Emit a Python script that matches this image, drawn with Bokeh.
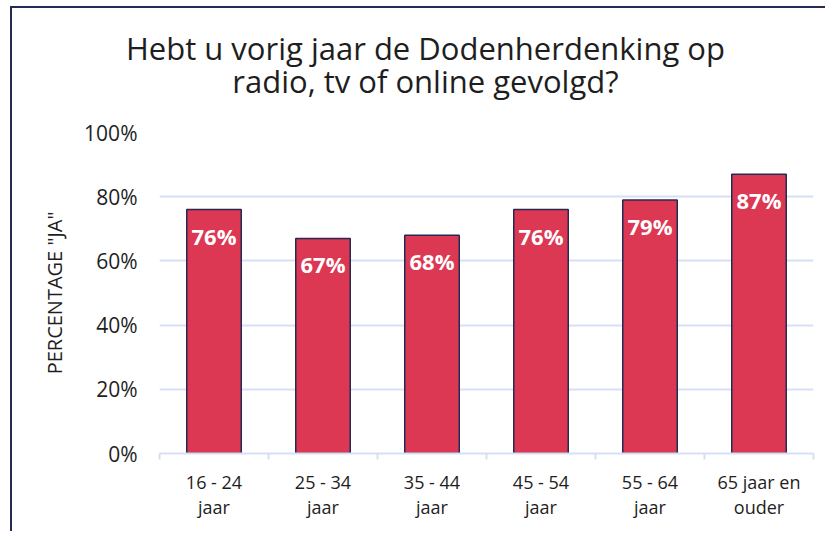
from bokeh.plotting import figure
from bokeh.models import Range1d, FixedTicker, PrintfTickFormatter, ColumnDataSource, LinearAxis
from bokeh.core.properties import value
from bokeh.embed import file_html
from bokeh.resources import INLINE

categories = ["16 - 24\njaar", "25 - 34\njaar", "35 - 44\njaar", "45 - 54\njaar", "55 - 64\njaar", "65 jaar en\nouder"]
percent_ja = [76, 67, 68, 76, 79, 87]
y_ticks = [0, 20, 40, 60, 80, 100]
title_lines = ["Hebt u vorig jaar de Dodenherdenking op", "radio, tv of online gevolgd?"]
y_label = 'PERCENTAGE "JA"'

FONT = "Open Sans"
TXT = "#1e1e1e"
GRID = "#D6DFF3"
BAR = "#DC3753"
EDGE = "#242A52"

n = len(categories)
xs = [i + 0.5 for i in range(n)]
labels = [f"{v}%" for v in percent_ja]
src = ColumnDataSource(dict(x=xs, top=percent_ja, lab=labels))

p = figure(width=815, height=525, output_backend="svg", toolbar_location=None,
           x_range=Range1d(0, n), y_range=Range1d(0, 100),
           min_border_left=147, min_border_right=14, min_border_top=124, min_border_bottom=80)
p.styles = {"margin-left": "10px", "margin-top": "6px",
            "border-left": "2px solid #262B55", "border-top": "2px solid #262B55"}
p.outline_line_color = None
p.background_fill_color = "white"
p.border_fill_color = "white"

p.vbar(x="x", top="top", width=0.5, source=src, fill_color=BAR, line_color=EDGE, line_width=1.5)
p.text(x="x", y="top", text="lab", source=src, text_align="center", text_baseline="middle",
       y_offset=26, text_color="white", text_font=value(FONT), text_font_style="bold",
       text_font_size="22px")

# x axis
xa = p.xaxis[0]
xa.ticker = FixedTicker(ticks=xs, minor_ticks=list(range(n + 1)))
xa.major_label_overrides = {x: c for x, c in zip(xs, categories)}
xa.major_tick_line_color = None
xa.major_tick_out = 0
xa.major_tick_in = 0
xa.minor_tick_line_color = GRID
xa.minor_tick_line_width = 2
xa.minor_tick_out = 6
xa.minor_tick_in = 0
xa.axis_line_color = GRID
xa.axis_line_width = 2
xa.major_label_standoff = 10
xa.major_label_text_font = FONT
xa.major_label_text_font_size = "18px"
xa.major_label_text_color = TXT
xa.major_label_text_line_height = 1.05
p.xgrid.visible = False

# y axis
ya = p.yaxis[0]
ya.ticker = FixedTicker(ticks=y_ticks)
ya.formatter = PrintfTickFormatter(format="%d%%")
ya.axis_line_color = None
ya.major_tick_line_color = None
ya.minor_tick_line_color = None
ya.major_tick_out = 0
ya.major_tick_in = 0
ya.major_label_standoff = 22
ya.major_label_text_font = FONT
ya.major_label_text_font_size = "21px"
ya.major_label_text_color = TXT
ya.axis_label = y_label
ya.axis_label_text_font = FONT
ya.axis_label_text_font_style = "normal"
ya.axis_label_text_font_size = "20px"
ya.axis_label_text_color = TXT
ya.axis_label_standoff = 13
p.ygrid.grid_line_color = GRID
p.ygrid.grid_line_width = 2

# two-line centred chart title, drawn as the single label of an axis above the frame
title_x = 2.44
p.extra_x_ranges = {"title": Range1d(0, n)}
ta = LinearAxis(x_range_name="title", ticker=FixedTicker(ticks=[title_x]),
                major_label_overrides={title_x: "\n".join(title_lines)})
ta.axis_line_color = None
ta.major_tick_line_color = None
ta.minor_tick_line_color = None
ta.major_tick_out = 0
ta.major_tick_in = 0
ta.major_label_standoff = 31
ta.major_label_text_font = FONT
ta.major_label_text_font_size = "31px"
ta.major_label_text_color = TXT
ta.major_label_text_line_height = 0.78
p.add_layout(ta, "above")

open("out.html", "w").write(file_html(p, INLINE))
